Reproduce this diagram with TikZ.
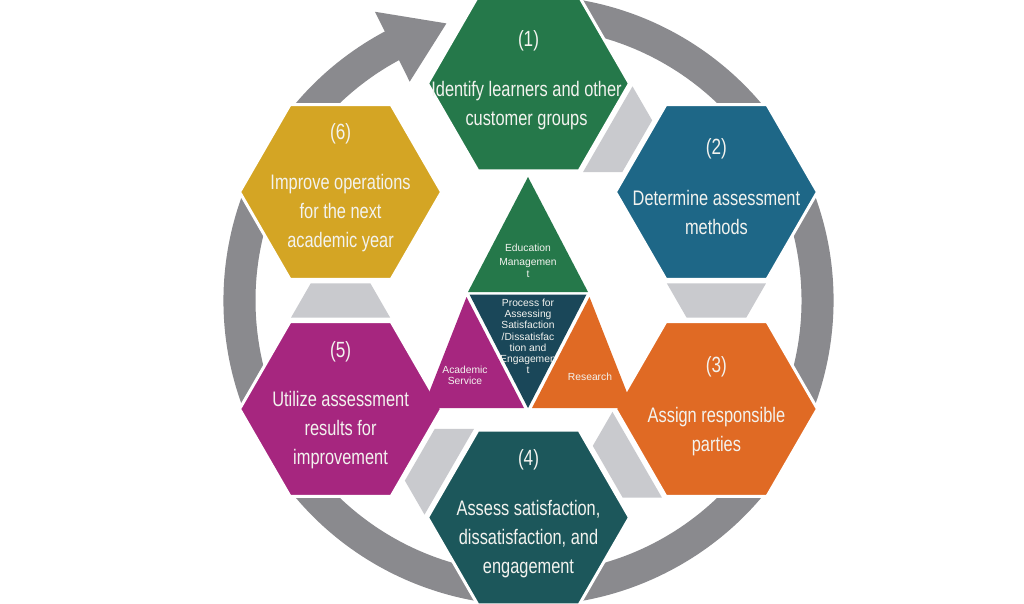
\documentclass[tikz,border=0pt]{standalone}
\usepackage{fontspec}
\setmainfont{Liberation Sans}
\newfontfamily\condfont{Liberation Sans}[FakeStretch=0.78]
\usetikzlibrary{calc}
\definecolor{hexgreen}{HTML}{25784A}
\definecolor{hexblue}{HTML}{1E6787}
\definecolor{hexorange}{HTML}{E06A24}
\definecolor{hexteal}{HTML}{1C575B}
\definecolor{hexmagenta}{HTML}{A6267F}
\definecolor{hexmustard}{HTML}{D4A524}
\definecolor{coredark}{HTML}{1A4759}
\definecolor{linkgray}{HTML}{C9CACE}
\definecolor{ringgray}{HTML}{8A8A8E}
\definecolor{labelwhite}{HTML}{F3F3EF}
\begin{document}
\begin{tikzpicture}[x=1pt,y=1pt,
  hexbox/.style={draw=white, line width=3pt, line join=miter},
  linkbox/.style={fill=linkgray},
  ringband/.style={fill=ringgray},
  numlabel/.style={text=labelwhite, font=\condfont\fontsize{22}{26}\selectfont, inner sep=0pt, anchor=base},
  steplabel/.style={text=labelwhite, font=\condfont\fontsize{21}{29}\selectfont, inner sep=0pt, anchor=north, align=center},
  trilabel/.style={text=labelwhite, font=\fontsize{10.3}{11.2}\selectfont, inner sep=0pt, anchor=north, align=center}]
\useasboundingbox (0,0) rectangle (1024,603);
\fill[white] (0,0) rectangle (1024,603);
\clip (0,0) rectangle (1024,603);

% centres
\coordinate (O) at (528.5,302.5);
\coordinate (c1) at ($(O)+(90:217pt)$);
\coordinate (c2) at ($(O)+(30:217pt)$);
\coordinate (c3) at ($(O)+(-30:217pt)$);
\coordinate (c4) at ($(O)+(-90:217pt)$);
\coordinate (c5) at ($(O)+(-150:217pt)$);
\coordinate (c6) at ($(O)+(150:217pt)$);

% ring arrow
\begin{scope}[shift={(O)}]
  \fill[ringband] (118:305pt) arc[start angle=118, end angle=455, radius=305pt]
     -- (455:273pt) arc[start angle=455, end angle=118, radius=273pt] -- cycle;
  \fill[ringband] (118.5:249pt) -- (106.5:289pt) -- (118:327pt) -- cycle;
\end{scope}

% hexagons
\foreach \i/\col in {1/hexgreen,2/hexblue,3/hexorange,4/hexteal,5/hexmagenta,6/hexmustard}{
  \filldraw[hexbox, fill=\col] ([shift={(0:101pt)}]c\i) -- ++(120:101pt) -- ++(180:101pt)
     -- ++(240:101pt) -- ++(300:101pt) -- ++(0:101pt) -- cycle;
}

% links between steps
\foreach \i/\ang in {1/-30,2/-90,3/-150,4/150,5/90}{
  \begin{scope}[shift={(c\i)}, rotate=\ang]
    \fill[linkbox] (91.5,-49.5) -- (91.5,49.5) -- (125.5,29.9) -- (125.5,-29.9) -- cycle;
  \end{scope}
}

% central triangles
\fill[hexgreen] (528,426) -- (468,311) -- (588,311) -- cycle;
\fill[coredark] (469.5,308.5) -- (586.5,308.5) -- (528,195) -- cycle;
\fill[hexmagenta] (466.5,306) -- (423,195) -- (524,195) -- cycle;
\fill[hexorange] (589.5,306) -- (532,195) -- (633,195) -- cycle;

% step labels
\node[numlabel] (n1) at ($(c1)+(0,37)$) {(1)};
\node[steplabel] (s1) at ($(c1)+(-2,4)$) {\rule{0pt}{17pt}Identify learners and other\\customer groups};
\node[numlabel] (n2) at ($(c2)+(0,37)$) {(2)};
\node[steplabel] (s2) at ($(c2)+(0,4)$) {\rule{0pt}{17pt}Determine assessment\\methods};
\node[numlabel] (n3) at ($(c3)+(0,37)$) {(3)};
\node[steplabel] (s3) at ($(c3)+(0,4)$) {\rule{0pt}{17pt}Assign responsible\\parties};
\node[numlabel] (n4) at ($(c4)+(0,52)$) {(4)};
\node[steplabel] (s4) at ($(c4)+(0,19.3)$) {\rule{0pt}{17pt}Assess satisfaction,\\dissatisfaction, and\\engagement};
\node[numlabel] (n5) at ($(c5)+(0,52)$) {(5)};
\node[steplabel] (s5) at ($(c5)+(0,19.3)$) {\rule{0pt}{17pt}Utilize assessment\\results for\\improvement};
\node[numlabel] (n6) at ($(c6)+(0,52)$) {(6)};
\node[steplabel] (s6) at ($(c6)+(0,19.3)$) {\rule{0pt}{17pt}Improve operations\\for the next\\academic year};

% triangle labels
\node[trilabel] (edu) at (528,360) {\rule{0pt}{8pt}Education\\[3.6pt]Managemen\\t};
\node[trilabel] (core) at (528,304.7) {\rule{0pt}{8pt}Process for\\Assessing\\Satisfaction\\/Dissatisfac\\tion and\\Engagemen\\t};
\node[trilabel] (acad) at (465,237.7) {\rule{0pt}{8pt}Academic\\Service};
\node[trilabel, anchor=base] (res) at (590,222.3) {Research};
\end{tikzpicture}
\end{document}
